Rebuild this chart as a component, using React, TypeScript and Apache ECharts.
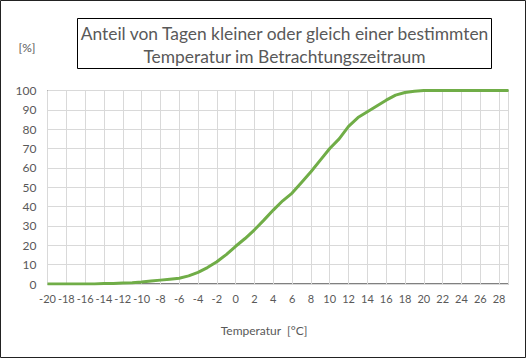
import React, { useEffect, useRef } from "react";
import * as echarts from "echarts";

const temperatures = [-20,-19,-18,-17,-16,-15,-14,-13,-12,-11,-10,-9,-8,-7,-6,-5,-4,-3,-2,-1,0,1,2,3,4,5,6,7,8,9,10,11,12,13,14,15,16,17,18,19,20,21,22,23,24,25,26,27,28,29];
const shares = [0,0,0,0,0,0,0.2,0.3,0.5,0.7,1.0,1.5,2.0,2.5,3.0,4.2,6.0,8.5,11.5,15.2,19.5,23.5,28,33,38.2,43,47,52.5,58,64,70,75,81.5,86,89,92,95,97.6,99,99.6,100,100,100,100,100,100,100,100,100,100];
const titleLines = ["Anteil von Tagen kleiner oder gleich einer bestimmten", "Temperatur im Betrachtungszeitraum"];
const xAxisName = "Temperatur  [°C]";
const yAxisName = "[%]";

const FONT = "Lato, 'Open Sans', sans-serif";
const TXT = "#595959";

export default function App() {
  const ref = useRef<HTMLDivElement>(null);
  useEffect(() => {
    document.body.style.margin = "0";
    const chart = echarts.init(ref.current!, undefined, { renderer: "svg" });
    chart.setOption({
      animation: false,
      backgroundColor: "#fff",
      grid: { left: 47.5, top: 90.5, right: 17.5, bottom: 74, show: true, borderColor: "#000", borderWidth: 1, backgroundColor: "transparent" },
      xAxis: {
        type: "value", min: -20, max: 29, interval: 2,
        axisLine: { show: false }, axisTick: { show: false },
        splitLine: { show: true, lineStyle: { color: "#d9d9d9", width: 1 } },
        axisLabel: { color: TXT, fontFamily: FONT, fontSize: 11, margin: 9, showMaxLabel: false },
      },
      yAxis: {
        type: "value", min: 0, max: 100, interval: 10,
        axisLine: { show: false }, axisTick: { show: false },
        splitLine: { show: true, lineStyle: { color: "#d9d9d9", width: 1 } },
        axisLabel: { color: TXT, fontFamily: FONT, fontSize: 12, margin: 11 },
      },
      series: [{
        type: "line", data: temperatures.map((t, i) => [t, shares[i]]),
        showSymbol: false, symbol: "none",
        lineStyle: { color: "#70AD47", width: 3 },
        z: 3,
      }],
      graphic: [
        { type: "rect", shape: { x: 0.5, y: 0.5, width: 525, height: 357 }, style: { fill: "none", stroke: "#222", lineWidth: 1 }, silent: true },
        { type: "rect", shape: { x: 77.5, y: 18.5, width: 414, height: 50 }, style: { fill: "#fff", stroke: "#000", lineWidth: 1 }, silent: true },
        { type: "text", x: 284.5, y: 33, style: { text: titleLines[0], fill: TXT, font: `17.4px ${FONT}`, align: "center", verticalAlign: "middle" } },
        { type: "text", x: 284.5, y: 56.5, style: { text: titleLines[1], fill: TXT, font: `17.4px ${FONT}`, align: "center", verticalAlign: "middle" } },
        { type: "text", x: 27, y: 47, style: { text: yAxisName, fill: TXT, font: `12px ${FONT}`, align: "center", verticalAlign: "middle" } },
        { type: "text", x: 264, y: 330, style: { text: xAxisName, fill: TXT, font: `12px ${FONT}`, align: "center", verticalAlign: "middle" } },
      ],
    });
    return () => chart.dispose();
  }, []);
  return <div ref={ref} style={{ width: 526, height: 358 }} />;
}
